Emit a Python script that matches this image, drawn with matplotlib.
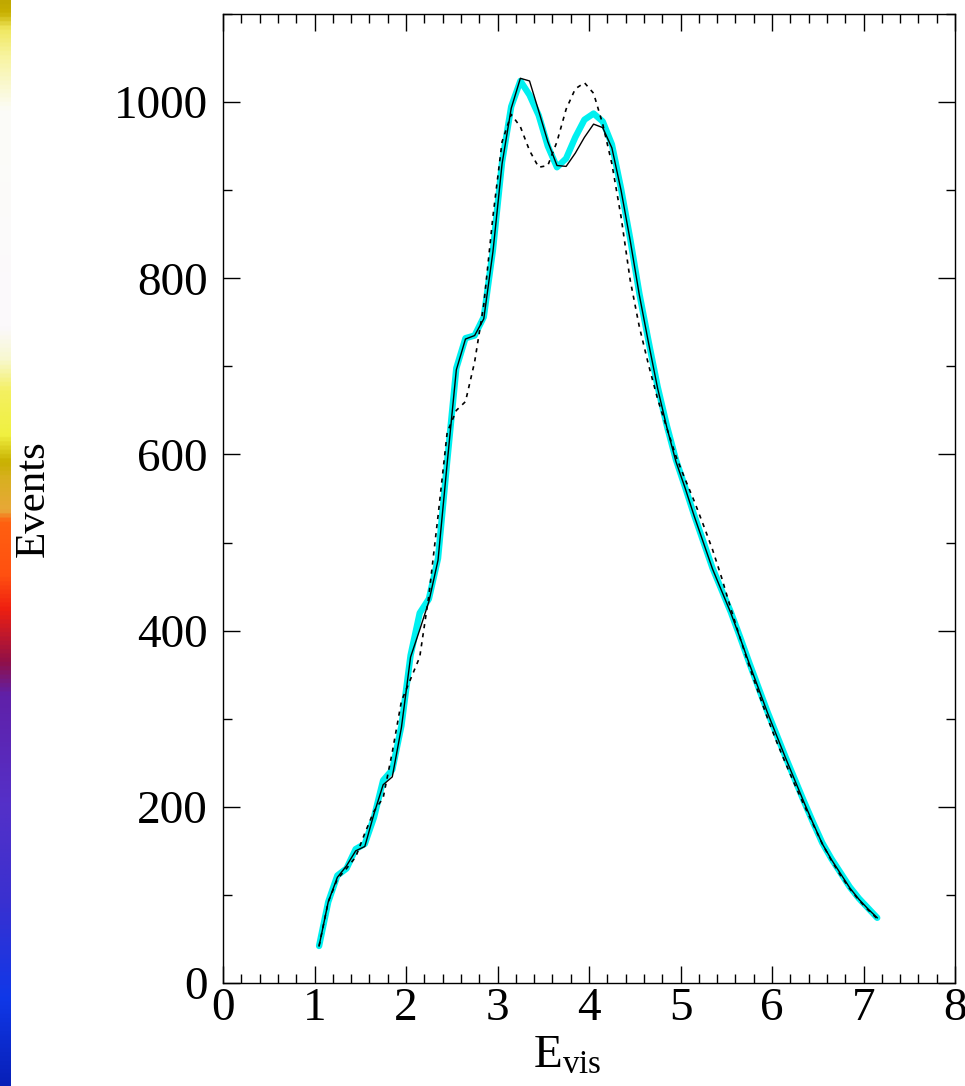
import numpy as np
import matplotlib.pyplot as plt
from matplotlib.colors import LinearSegmentedColormap
from matplotlib.ticker import MultipleLocator

plt.rcParams['font.family'] = ['Liberation Serif', 'DejaVu Serif']
plt.rcParams['mathtext.fontset'] = 'custom'
plt.rcParams['mathtext.rm'] = 'Liberation Serif'

# visible energy bin centres
e_vis = np.round(np.arange(1.05, 7.16, 0.1), 2)

# full calculation (thin solid)
events_full = [
    42, 92, 120, 133, 150, 155, 192, 225, 234, 290,
    370, 401, 433, 480, 590, 696, 731, 735, 754, 830,
    930, 993, 1027, 1024, 990, 955, 928, 927, 942, 960,
    975, 971, 948, 900, 843, 781, 727, 675, 631, 592,
    562, 530, 500, 470, 445, 420, 392, 363, 335, 307,
    281, 255, 230, 205, 181, 158, 140, 124, 108, 95,
    84, 74,
]

# approximation (thick cyan)
events_approx = [
    42, 92, 122, 130, 152, 158, 188, 230, 242, 292,
    372, 420, 436, 482, 592, 698, 732, 735, 756, 832,
    932, 995, 1024, 1008, 985, 950, 926, 936, 960, 980,
    987, 978, 952, 902, 845, 783, 729, 677, 633, 594,
    563, 531, 501, 471, 446, 421, 393, 364, 336, 308,
    282, 256, 231, 206, 182, 159, 141, 125, 109, 96,
    85, 74,
]

# reference spectrum (dotted)
events_ref = [
    42, 92, 118, 130, 143, 170, 195, 210, 262, 320,
    345, 370, 440, 530, 625, 650, 660, 705, 770, 870,
    955, 986, 972, 945, 926, 928, 955, 992, 1015, 1022,
    1010, 975, 930, 870, 798, 745, 702, 663, 630, 598,
    572, 547, 520, 492, 460, 425, 392, 360, 330, 301,
    274, 249, 225, 202, 180, 158, 139, 122, 107, 94,
    83, 73,
]

x_ticks = [0, 1, 2, 3, 4, 5, 6, 7, 8]
y_ticks = [0, 200, 400, 600, 800, 1000]

# colour strip along the left edge, bottom to top
strip_stops = [
    (0.00, '#0820b8'), (0.08, '#1038e8'), (0.17, '#3a30d0'),
    (0.26, '#5530c8'), (0.36, '#6020a8'), (0.39, '#901048'),
    (0.44, '#f02010'), (0.47, '#ff5010'), (0.52, '#ff6010'),
    (0.53, '#e8a838'), (0.56, '#d8b020'), (0.575, '#c8b000'),
    (0.60, '#f0f040'), (0.64, '#f4f060'), (0.67, '#f8f8d0'),
    (0.70, '#fbf9fc'), (0.90, '#fcfcf8'), (0.95, '#f8f4a0'),
    (0.975, '#f0e860'), (0.99, '#c8b000'), (1.00, '#c0a800'),
]

fig = plt.figure(figsize=(9.65, 10.86), dpi=100)

strip = fig.add_axes([0, 0, 11 / 965, 1])
strip_cmap = LinearSegmentedColormap.from_list('strip', strip_stops)
strip.imshow(np.linspace(0, 1, 512).reshape(-1, 1), cmap=strip_cmap,
             aspect='auto', origin='lower', extent=[0, 1, 0, 1])
strip.set_axis_off()

ax = fig.add_axes([223 / 965, 103 / 1086, 732 / 965, 969 / 1086])

ax.plot(e_vis, events_approx, color='#00f0f0', lw=4.6,
        solid_joinstyle='round', solid_capstyle='round', zorder=2)
ax.plot(e_vis, events_full, color='black', lw=1.0, zorder=3)
ax.plot(e_vis, events_ref, color='black', lw=1.2, linestyle=(0, (2.5, 3)), zorder=4)

ax.set_xlim(0, 8)
ax.set_ylim(0, 1100)
ax.set_xticks(x_ticks)
ax.set_yticks(y_ticks)
ax.xaxis.set_minor_locator(MultipleLocator(0.2))
ax.yaxis.set_minor_locator(MultipleLocator(100))
ax.tick_params(which='both', direction='in', top=True, right=True,
               width=1.0, labelsize=34)
ax.tick_params(which='major', length=12)
ax.tick_params(which='minor', length=6.5)
ax.tick_params(axis='x', which='major', pad=3)
ax.tick_params(axis='y', which='major', pad=11)
for side in ax.spines.values():
    side.set_linewidth(1.0)

ax.set_xlabel(r'$\mathrm{E_{vis}}$', fontsize=34, labelpad=0)
ax.xaxis.set_label_coords(0.47, -0.054)
ax.set_ylabel('Events', fontsize=31)
ax.yaxis.set_label_coords(-0.232, 0.5)

fig.savefig('out.png', dpi=100)
